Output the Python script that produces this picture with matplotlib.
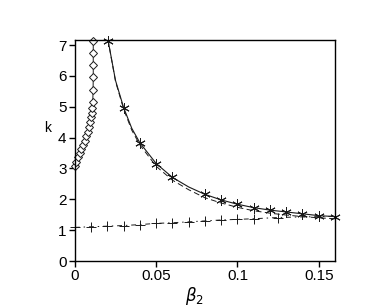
import matplotlib
matplotlib.use("Agg")
import matplotlib.pyplot as plt

plt.rcParams["font.family"] = ["Liberation Sans", "DejaVu Sans"]

# branch 1: diamonds, rising from k~3 to the top of the frame
beta_diam = [0.0, 0.001, 0.002, 0.003, 0.004, 0.005, 0.006, 0.007, 0.0078,
             0.0085, 0.0092, 0.0098, 0.0103, 0.0107, 0.0110, 0.0112, 0.0113,
             0.0113, 0.0113, 0.0113]
k_diam = [3.08, 3.22, 3.36, 3.49, 3.62, 3.76, 3.89, 4.05, 4.19, 4.35, 4.52,
          4.66, 4.81, 4.97, 5.16, 5.54, 5.97, 6.35, 6.73, 7.13]

# branch 2: solid curve with asterisk markers
beta_star = [0.0205, 0.03, 0.04, 0.05, 0.06, 0.08, 0.09, 0.10, 0.11, 0.12,
             0.13, 0.14, 0.15, 0.16]
k_star = [7.13, 4.97, 3.83, 3.16, 2.71, 2.16, 1.98, 1.84, 1.73, 1.65, 1.59,
          1.53, 1.47, 1.44]
beta_solid = [0.0195, 0.0205, 0.025, 0.03, 0.035, 0.04, 0.05, 0.06, 0.07,
              0.08, 0.09, 0.10, 0.11, 0.12, 0.13, 0.14, 0.15, 0.16]
k_solid = [7.5, 7.13, 5.85, 4.97, 4.30, 3.83, 3.16, 2.71, 2.40, 2.16, 1.98,
           1.84, 1.73, 1.65, 1.59, 1.53, 1.47, 1.44]

# branch 2, approximation: dashed, no markers
beta_dash = [0.0195, 0.0205, 0.025, 0.03, 0.035, 0.04, 0.05, 0.06, 0.07,
             0.08, 0.09, 0.10, 0.11, 0.12, 0.13, 0.14, 0.15, 0.16]
k_dash = [7.5, 7.13, 5.82, 4.92, 4.24, 3.76, 3.07, 2.62, 2.31, 2.05, 1.88,
          1.74, 1.63, 1.55, 1.49, 1.44, 1.40, 1.37]

# lower branch: crosses, dash-dot
beta_plus = [0.0, 0.01, 0.02, 0.03, 0.04, 0.05, 0.06, 0.07, 0.08, 0.09, 0.10,
             0.11, 0.125]
k_plus = [1.09, 1.11, 1.13, 1.15, 1.18, 1.22, 1.24, 1.27, 1.30, 1.33, 1.35,
          1.37, 1.41]
beta_dd = beta_plus + [0.14, 0.16]
k_dd = k_plus + [1.43, 1.45]

xticks = [0, 0.05, 0.1, 0.15]
xticklabels = ["0", "0.05", "0.1", "0.15"]
yticks = list(range(0, 8))

fig = plt.figure(figsize=(3.82, 3.06), dpi=100)
ax = fig.add_axes([0.196, 0.147, 0.681, 0.721])

lw = 0.7
ink = "#1a1a1a"
ax.plot(beta_diam, k_diam, "-", color=ink, lw=lw, marker="D",
        markersize=4.5, markerfacecolor="white", markeredgewidth=0.7,
        clip_on=False)
ax.plot(beta_solid, k_solid, "-", color=ink, lw=0.8)
ax.plot(beta_star, k_star, linestyle="none", color=ink, marker=(6, 2, 0),
        markersize=7.5, markeredgewidth=0.7, clip_on=False)
ax.plot(beta_dash, k_dash, color=ink, lw=lw, dashes=(6, 3.5))
ax.plot(beta_dd, k_dd, color=ink, lw=lw, dashes=(5, 4, 1.5, 4))
ax.plot(beta_plus, k_plus, linestyle="none", color=ink, marker="+",
        markersize=7, markeredgewidth=0.7, clip_on=False)

ax.set_xlim(0, 0.16)
ax.set_ylim(0, 7.15)
ax.set_xticks(xticks)
ax.set_xticklabels(xticklabels)
ax.set_yticks(yticks)
ax.tick_params(direction="out", length=4, width=1, labelsize=11,
               top=False, right=False, pad=2)
for s in ax.spines.values():
    s.set_linewidth(1.0)

ax.set_ylabel("k", rotation=0, fontsize=10)
ax.yaxis.set_label_coords(-0.105, 0.57)
ax.set_xlabel(r"$\beta_{\rm 2}$", fontsize=12)
ax.xaxis.set_label_coords(0.46, -0.11)

fig.savefig("out.png", dpi=100)
